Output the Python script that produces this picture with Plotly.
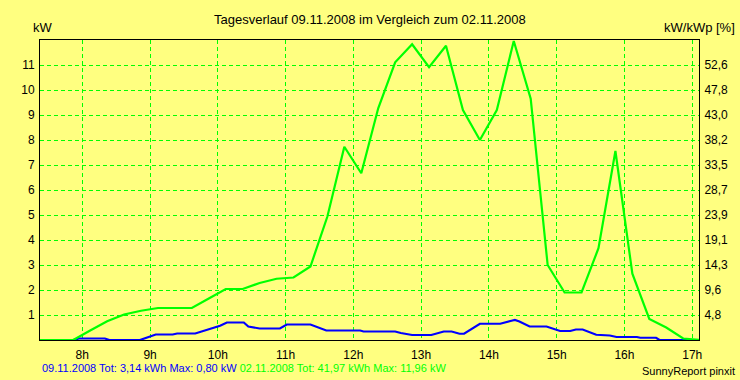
import plotly.graph_objects as go

# ---- data ----
times_0911 = ["7:22", "7:52", "7:57", "8:20", "8:24", "8:51", "9:00", "9:05", "9:20", "9:24",
              "9:40", "9:51", "10:02", "10:08", "10:23", "10:27", "10:37", "10:55", "11:01", "11:22",
              "11:30", "11:36", "12:06", "12:09", "12:37", "12:42", "12:52", "13:09", "13:20", "13:27",
              "13:34", "13:38", "13:52", "14:10", "14:20", "14:23", "14:27", "14:36", "14:51", "15:03",
              "15:12", "15:17", "15:23", "15:35", "15:47", "15:53", "16:11", "16:14", "16:28", "16:31",
              "17:06"]
kw_0911 = [0.0, 0.0, 0.06, 0.06, 0.0, 0.0, 0.14, 0.22, 0.22, 0.26,
           0.26, 0.42, 0.57, 0.70, 0.70, 0.54, 0.46, 0.46, 0.62, 0.62,
           0.50, 0.38, 0.38, 0.34, 0.34, 0.28, 0.20, 0.20, 0.34, 0.34,
           0.25, 0.25, 0.65, 0.65, 0.77, 0.80, 0.74, 0.54, 0.54, 0.36,
           0.36, 0.42, 0.42, 0.21, 0.18, 0.12, 0.12, 0.09, 0.09, 0.0,
           0.0]

times_0211 = ["7:22", "7:37", "7:52", "8:07", "8:22", "8:37", "8:52", "9:07", "9:22", "9:37",
              "9:52", "10:07", "10:22", "10:37", "10:52", "11:07", "11:22", "11:37", "11:52", "12:07",
              "12:22", "12:37", "12:52", "13:07", "13:22", "13:37", "13:52", "14:07", "14:22", "14:37",
              "14:52", "15:07", "15:22", "15:37", "15:52", "16:07", "16:22", "16:37", "16:52", "17:07"]
kw_0211 = [0.0, 0.0, 0.0, 0.38, 0.75, 1.02, 1.17, 1.28, 1.28, 1.28,
           1.66, 2.04, 2.04, 2.28, 2.45, 2.50, 2.94, 4.94, 7.73, 6.67,
           9.27, 11.11, 11.83, 10.91, 11.77, 9.20, 8.00, 9.20, 11.96, 9.65,
           3.00, 1.90, 1.90, 3.67, 7.56, 2.65, 0.84, 0.50, 0.06, 0.0]

hour_ticks = [8, 9, 10, 11, 12, 13, 14, 15, 16, 17]
hour_labels = ["8h", "9h", "10h", "11h", "12h", "13h", "14h", "15h", "16h", "17h"]
kw_ticks = [1, 2, 3, 4, 5, 6, 7, 8, 9, 10, 11]
kw_labels = ["1", "2", "3", "4", "5", "6", "7", "8", "9", "10", "11"]
pct_labels = ["4,8", "9,6", "14,3", "19,1", "23,9", "28,7", "33,5", "38,2", "43,0", "47,8", "52,6"]


def to_hours(ts):
    out = []
    for t in ts:
        h, m = t.split(":")
        out.append(int(h) + int(m) / 60.0)
    return out


BG = "#FFFF80"
GREEN = "#00FF00"
BLUE = "#0000FF"
FONT = "Liberation Sans, Arial, sans-serif"

fig = go.Figure()
fig.add_trace(go.Scatter(x=to_hours(times_0911), y=kw_0911, mode="lines",
                         line=dict(color=BLUE, width=2.2), showlegend=False))
fig.add_trace(go.Scatter(x=to_hours(times_0211), y=kw_0211, mode="lines",
                         line=dict(color=GREEN, width=2.2), showlegend=False))
# invisible trace to activate right axis
fig.add_trace(go.Scatter(x=[8], y=[0], yaxis="y2", mode="markers",
                         marker=dict(opacity=0), showlegend=False, hoverinfo="skip"))

grid = dict(showgrid=True, gridcolor=GREEN, gridwidth=1, griddash="4px,3px")

fig.update_layout(
    width=740, height=380,
    margin=dict(l=40, r=41, t=40, b=40),
    paper_bgcolor=BG, plot_bgcolor=BG,
    font=dict(family=FONT, size=12, color="black"),
    xaxis=dict(range=[7.376, 17.1], tickvals=hour_ticks, ticktext=hour_labels,
               showline=True, mirror=True, linecolor="black", linewidth=1,
               ticks="outside", ticklen=4, tickcolor="rgba(0,0,0,0)",
               zeroline=False, **grid),
    yaxis=dict(range=[0, 12], tickvals=kw_ticks, ticktext=kw_labels,
               showline=True, mirror=True, linecolor="black", linewidth=1,
               ticks="outside", ticklen=2, tickcolor="rgba(0,0,0,0)",
               zeroline=False, **grid),
    yaxis2=dict(range=[0, 12], tickvals=kw_ticks, ticktext=pct_labels,
                overlaying="y", side="right", showgrid=False, zeroline=False,
                ticks="outside", ticklen=2, tickcolor="rgba(0,0,0,0)"),
)

annos = [
    dict(text="Tagesverlauf 09.11.2008 im Vergleich zum 02.11.2008", x=0.5, y=1.0667,
         xanchor="center", yanchor="middle", size=13),
    dict(text="kW", x=-0.0137, y=1.0433, xanchor="left", yanchor="middle", size=13),
    dict(text="kW/kWp [%]", x=1.0577, y=1.0433, xanchor="right", yanchor="middle", size=13),
    dict(text=("<span style='color:#0000FF'>09.11.2008 Tot: 3,14 kWh Max: 0,80 kW</span> "
               "<span style='color:#00FF00'>02.11.2008 Tot: 41,97 kWh Max: 11,96 kW</span>"),
         x=0.0, y=-0.0933, xanchor="left", yanchor="middle", size=11),
    dict(text="SunnyReport pinxit", x=1.0577, y=-0.1033, xanchor="right", yanchor="middle", size=11),
]
for a in annos:
    sz = a.pop("size")
    fig.add_annotation(xref="paper", yref="paper", showarrow=False,
                       font=dict(family=FONT, size=sz), **a)

fig.write_html("out.html", config={"displayModeBar": False},
               post_script="document.body.style.margin='0';document.body.style.overflow='hidden';")
